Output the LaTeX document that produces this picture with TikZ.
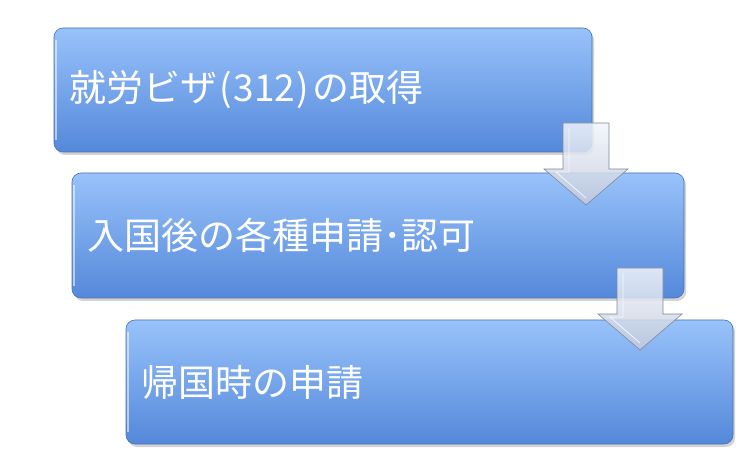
\documentclass[tikz,border=0pt]{standalone}
\usepackage{fontspec}
\setmainfont{Noto Sans CJK JP}
\usetikzlibrary{shadows}

\definecolor{boxtop}{RGB}{152,194,250}
\definecolor{boxbot}{RGB}{84,136,218}
\definecolor{boxline}{RGB}{72,112,182}
\definecolor{arrtop}{RGB}{242,245,251}
\definecolor{arrbot}{RGB}{194,202,220}
\definecolor{arrline}{RGB}{128,136,154}

\tikzset{
  stepbox/.style={draw=boxline, line width=0.6pt, rounded corners=9pt,
    top color=boxtop, bottom color=boxbot, text=white, align=left,
    inner xsep=15pt, font=\fontsize{37pt}{44pt}\selectfont,
    drop shadow={shadow xshift=2pt, shadow yshift=-3pt, opacity=0.35}},
  flowarrow/.style={draw=arrline, line width=0.6pt, top color=arrtop,
    bottom color=arrbot, fill opacity=0.85},
  bevel/.style={draw=white, line width=0.8pt, opacity=0.8}
}

% block arrow pointing down, #1 = coordinate at top centre of the shaft
\newcommand{\blockarrow}[1]{%
  \path[flowarrow] ([xshift=-23pt]#1) -- ++(46,0) -- ++(0,-46) -- ++(19,0)
    -- ++(-42,-36) -- ++(-42,36) -- ++(19,0) -- cycle;
  \path[bevel] ([xshift=-17pt,yshift=-5pt]#1) -- ++(0,-44) -- ++(-13,0)
    -- ++(30,-26);
}

\begin{document}
\begin{tikzpicture}[x=1pt,y=1pt]
\useasboundingbox (0,0) rectangle (750,469);

\node[stepbox, text width=508pt, minimum height=124pt] (visa) at (323,379) {就労ビザ\hspace{3pt}(\hspace{1pt}312\hspace{1pt})\hspace{4pt}の取得};
\node[stepbox, text width=582pt, minimum height=125pt] (permit) at (378,233.5) {入国後の各種申請･認可};
\node[stepbox, text width=577pt, minimum height=124pt] (home) at (429.5,87) {帰国時の申請};

% light rim on the left side
\foreach \n in {visa,permit,home}
  \draw[white, opacity=0.55, line width=1.5pt]
    ([xshift=2.5pt,yshift=-12pt]\n.north west) -- ([xshift=2.5pt,yshift=12pt]\n.south west);

\coordinate (arr1) at (586,346);
\coordinate (arr2) at (640,201);
\blockarrow{arr1}
\blockarrow{arr2}
\end{tikzpicture}
\end{document}
